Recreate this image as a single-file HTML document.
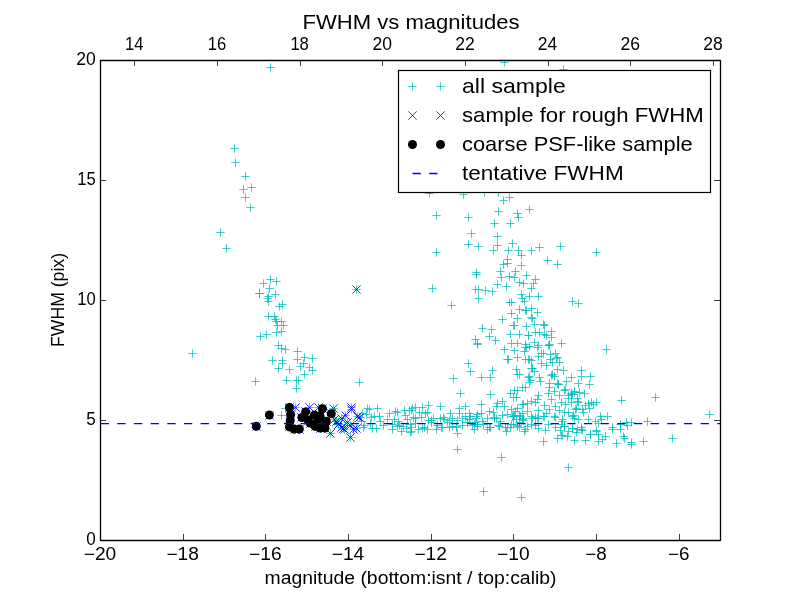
<!DOCTYPE html><html><head><meta charset="utf-8"><style>html,body{margin:0;padding:0;background:#fff;}svg{display:block;will-change:transform;}text{font-family:"Liberation Sans",sans-serif;fill:#000;}</style></head><body>
<svg width="800" height="600" viewBox="0 0 800 600">
<rect x="0" y="0" width="800" height="600" fill="#fff"/>
<defs><clipPath id="ax"><rect x="100" y="60" width="620" height="480"/></clipPath></defs>
<g clip-path="url(#ax)">
<path d="M266.33 67.50h8.34M270.50 63.33v8.34M230.33 148.50h8.34M234.50 144.33v8.34M231.33 162.50h8.34M235.50 158.33v8.34M241.33 176.50h8.34M245.50 172.33v8.34M239.33 189.50h8.34M243.50 185.33v8.34M247.33 187.50h8.34M251.50 183.33v8.34M241.33 197.50h8.34M245.50 193.33v8.34M246.33 207.50h8.34M250.50 203.33v8.34M216.33 232.50h8.34M220.50 228.33v8.34M222.33 248.50h8.34M226.50 244.33v8.34M266.33 279.50h8.34M270.50 275.33v8.34M272.33 281.50h8.34M276.50 277.33v8.34M259.33 283.50h8.34M263.50 279.33v8.34M265.33 288.50h8.34M269.50 284.33v8.34M255.33 293.50h8.34M259.50 289.33v8.34M255.33 293.50h8.34M259.50 289.33v8.34M271.33 294.50h8.34M275.50 290.33v8.34M264.33 296.50h8.34M268.50 292.33v8.34M263.33 298.50h8.34M267.50 294.33v8.34M264.33 301.50h8.34M268.50 297.33v8.34M278.33 304.50h8.34M282.50 300.33v8.34M275.33 306.50h8.34M279.50 302.33v8.34M264.33 316.50h8.34M268.50 312.33v8.34M270.33 316.50h8.34M274.50 312.33v8.34M271.33 319.50h8.34M275.50 315.33v8.34M272.33 321.50h8.34M276.50 317.33v8.34M277.33 321.50h8.34M281.50 317.33v8.34M279.33 325.50h8.34M283.50 321.33v8.34M273.33 325.50h8.34M277.50 321.33v8.34M272.33 332.50h8.34M276.50 328.33v8.34M277.33 331.50h8.34M281.50 327.33v8.34M262.33 334.50h8.34M266.50 330.33v8.34M256.33 336.50h8.34M260.50 332.33v8.34M274.33 345.50h8.34M278.50 341.33v8.34M277.33 348.50h8.34M281.50 344.33v8.34M281.33 349.50h8.34M285.50 345.33v8.34M293.33 351.50h8.34M297.50 347.33v8.34M300.33 357.50h8.34M304.50 353.33v8.34M308.33 358.50h8.34M312.50 354.33v8.34M293.33 359.50h8.34M297.50 355.33v8.34M268.33 360.50h8.34M272.50 356.33v8.34M278.33 360.50h8.34M282.50 356.33v8.34M278.33 363.50h8.34M282.50 359.33v8.34M274.33 368.50h8.34M278.50 364.33v8.34M285.33 369.50h8.34M289.50 365.33v8.34M299.33 363.50h8.34M303.50 359.33v8.34M296.33 366.50h8.34M300.50 362.33v8.34M305.33 367.50h8.34M309.50 363.33v8.34M308.33 370.50h8.34M312.50 366.33v8.34M300.33 374.50h8.34M304.50 370.33v8.34M251.33 381.50h8.34M255.50 377.33v8.34M282.33 380.50h8.34M286.50 376.33v8.34M292.33 380.50h8.34M296.50 376.33v8.34M294.33 380.50h8.34M298.50 376.33v8.34M292.33 388.50h8.34M296.50 384.33v8.34M277.33 415.50h8.34M281.50 411.33v8.34M281.33 408.50h8.34M285.50 404.33v8.34M355.33 382.50h8.34M359.50 378.33v8.34M188.33 353.50h8.34M192.50 349.33v8.34M363.33 408.50h8.34M367.50 404.33v8.34M365.33 409.50h8.34M369.50 405.33v8.34M373.33 408.50h8.34M377.50 404.33v8.34M367.33 417.50h8.34M371.50 413.33v8.34M370.33 416.50h8.34M374.50 412.33v8.34M375.33 416.50h8.34M379.50 412.33v8.34M360.33 425.50h8.34M364.50 421.33v8.34M368.33 428.50h8.34M372.50 424.33v8.34M372.33 428.50h8.34M376.50 424.33v8.34M379.33 425.50h8.34M383.50 421.33v8.34M383.33 419.50h8.34M387.50 415.33v8.34M388.33 429.50h8.34M392.50 425.33v8.34M390.33 419.50h8.34M394.50 415.33v8.34M391.33 411.50h8.34M395.50 407.33v8.34M393.33 412.50h8.34M397.50 408.33v8.34M400.33 410.50h8.34M404.50 406.33v8.34M405.33 410.50h8.34M409.50 406.33v8.34M408.33 408.50h8.34M412.50 404.33v8.34M397.33 431.50h8.34M401.50 427.33v8.34M406.33 432.50h8.34M410.50 428.33v8.34M402.33 428.50h8.34M406.50 424.33v8.34M403.33 419.50h8.34M407.50 415.33v8.34M395.33 425.50h8.34M399.50 421.33v8.34M409.33 417.50h8.34M413.50 413.33v8.34M393.33 426.50h8.34M397.50 422.33v8.34M399.33 426.50h8.34M403.50 422.33v8.34M356.33 417.50h8.34M360.50 413.33v8.34M456.33 393.50h8.34M460.50 389.33v8.34M424.33 405.50h8.34M428.50 401.33v8.34M436.33 406.50h8.34M440.50 402.33v8.34M455.33 408.50h8.34M459.50 404.33v8.34M461.33 406.50h8.34M465.50 402.33v8.34M411.33 407.50h8.34M415.50 403.33v8.34M418.33 407.50h8.34M422.50 403.33v8.34M407.33 410.50h8.34M411.50 406.33v8.34M415.33 412.50h8.34M419.50 408.33v8.34M423.33 412.50h8.34M427.50 408.33v8.34M446.33 413.50h8.34M450.50 409.33v8.34M455.33 413.50h8.34M459.50 409.33v8.34M411.33 418.50h8.34M415.50 414.33v8.34M417.33 417.50h8.34M421.50 413.33v8.34M424.33 420.50h8.34M428.50 416.33v8.34M429.33 418.50h8.34M433.50 414.33v8.34M436.33 418.50h8.34M440.50 414.33v8.34M440.33 419.50h8.34M444.50 415.33v8.34M448.33 418.50h8.34M452.50 414.33v8.34M458.33 418.50h8.34M462.50 414.33v8.34M461.33 416.50h8.34M465.50 412.33v8.34M465.33 419.50h8.34M469.50 415.33v8.34M407.33 427.50h8.34M411.50 423.33v8.34M414.33 429.50h8.34M418.50 425.33v8.34M418.33 428.50h8.34M422.50 424.33v8.34M423.33 429.50h8.34M427.50 425.33v8.34M432.33 429.50h8.34M436.50 425.33v8.34M437.33 427.50h8.34M441.50 423.33v8.34M445.33 427.50h8.34M449.50 423.33v8.34M452.33 427.50h8.34M456.50 423.33v8.34M458.33 425.50h8.34M462.50 421.33v8.34M463.33 422.50h8.34M467.50 418.33v8.34M453.33 433.50h8.34M457.50 429.33v8.34M406.33 424.50h8.34M410.50 420.33v8.34M486.33 394.50h8.34M490.50 390.33v8.34M477.33 404.50h8.34M481.50 400.33v8.34M493.33 403.50h8.34M497.50 399.33v8.34M498.33 401.50h8.34M502.50 397.33v8.34M500.33 406.50h8.34M504.50 402.33v8.34M492.33 406.50h8.34M496.50 402.33v8.34M510.33 390.50h8.34M514.50 386.33v8.34M513.33 390.50h8.34M517.50 386.33v8.34M506.33 393.50h8.34M510.50 389.33v8.34M509.33 397.50h8.34M513.50 393.33v8.34M512.33 397.50h8.34M516.50 393.33v8.34M518.33 387.50h8.34M522.50 383.33v8.34M518.33 404.50h8.34M522.50 400.33v8.34M513.33 408.50h8.34M517.50 404.33v8.34M507.33 409.50h8.34M511.50 405.33v8.34M465.33 413.50h8.34M469.50 409.33v8.34M472.33 416.50h8.34M476.50 412.33v8.34M477.33 413.50h8.34M481.50 409.33v8.34M485.33 411.50h8.34M489.50 407.33v8.34M489.33 412.50h8.34M493.50 408.33v8.34M483.33 418.50h8.34M487.50 414.33v8.34M492.33 418.50h8.34M496.50 414.33v8.34M498.33 415.50h8.34M502.50 411.33v8.34M503.33 414.50h8.34M507.50 410.33v8.34M509.33 416.50h8.34M513.50 412.33v8.34M515.33 415.50h8.34M519.50 411.33v8.34M465.33 419.50h8.34M469.50 415.33v8.34M468.33 425.50h8.34M472.50 421.33v8.34M473.33 424.50h8.34M477.50 420.33v8.34M479.33 424.50h8.34M483.50 420.33v8.34M485.33 427.50h8.34M489.50 423.33v8.34M494.33 425.50h8.34M498.50 421.33v8.34M503.33 427.50h8.34M507.50 423.33v8.34M509.33 424.50h8.34M513.50 420.33v8.34M515.33 427.50h8.34M519.50 423.33v8.34M519.33 420.50h8.34M523.50 416.33v8.34M453.33 449.50h8.34M457.50 445.33v8.34M497.33 457.50h8.34M501.50 453.33v8.34M479.33 491.50h8.34M483.50 487.33v8.34M517.33 497.50h8.34M521.50 493.33v8.34M520.33 431.50h8.34M524.50 427.33v8.34M539.33 441.50h8.34M543.50 437.33v8.34M553.33 438.50h8.34M557.50 434.33v8.34M407.33 431.50h8.34M411.50 427.33v8.34M502.33 431.50h8.34M506.50 427.33v8.34M564.33 467.50h8.34M568.50 463.33v8.34M668.33 438.50h8.34M672.50 434.33v8.34M639.33 441.50h8.34M643.50 437.33v8.34M627.33 442.50h8.34M631.50 438.33v8.34M627.33 444.50h8.34M631.50 440.33v8.34M612.33 443.50h8.34M616.50 439.33v8.34M620.33 438.50h8.34M624.50 434.33v8.34M598.33 439.50h8.34M602.50 435.33v8.34M594.33 441.50h8.34M598.50 437.33v8.34M601.33 436.50h8.34M605.50 432.33v8.34M581.33 440.50h8.34M585.50 436.33v8.34M570.33 440.50h8.34M574.50 436.33v8.34M608.33 429.50h8.34M612.50 425.33v8.34M616.33 429.50h8.34M620.50 425.33v8.34M623.33 425.50h8.34M627.50 421.33v8.34M643.33 421.50h8.34M647.50 417.33v8.34M627.33 422.50h8.34M631.50 418.33v8.34M592.33 431.50h8.34M596.50 427.33v8.34M586.33 434.50h8.34M590.50 430.33v8.34M577.33 429.50h8.34M581.50 425.33v8.34M564.33 431.50h8.34M568.50 427.33v8.34M558.33 435.50h8.34M562.50 431.33v8.34M568.33 428.50h8.34M572.50 424.33v8.34M594.33 423.50h8.34M598.50 419.33v8.34M521.33 387.50h8.34M525.50 383.33v8.34M525.33 382.50h8.34M529.50 378.33v8.34M536.33 381.50h8.34M540.50 377.33v8.34M545.33 387.50h8.34M549.50 383.33v8.34M545.33 383.50h8.34M549.50 379.33v8.34M553.33 383.50h8.34M557.50 379.33v8.34M554.33 384.50h8.34M558.50 380.33v8.34M562.33 381.50h8.34M566.50 377.33v8.34M574.33 383.50h8.34M578.50 379.33v8.34M561.33 389.50h8.34M565.50 385.33v8.34M550.33 391.50h8.34M554.50 387.33v8.34M544.33 393.50h8.34M548.50 389.33v8.34M534.33 395.50h8.34M538.50 391.33v8.34M555.33 395.50h8.34M559.50 391.33v8.34M567.33 393.50h8.34M571.50 389.33v8.34M570.33 391.50h8.34M574.50 387.33v8.34M564.33 395.50h8.34M568.50 391.33v8.34M533.33 399.50h8.34M537.50 395.33v8.34M523.33 403.50h8.34M527.50 399.33v8.34M527.33 401.50h8.34M531.50 397.33v8.34M519.33 404.50h8.34M523.50 400.33v8.34M540.33 405.50h8.34M544.50 401.33v8.34M547.33 399.50h8.34M551.50 395.33v8.34M551.33 406.50h8.34M555.50 402.33v8.34M557.33 402.50h8.34M561.50 398.33v8.34M561.33 404.50h8.34M565.50 400.33v8.34M567.33 402.50h8.34M571.50 398.33v8.34M573.33 398.50h8.34M577.50 394.33v8.34M545.33 409.50h8.34M549.50 405.33v8.34M534.33 410.50h8.34M538.50 406.33v8.34M555.33 410.50h8.34M559.50 406.33v8.34M564.33 412.50h8.34M568.50 408.33v8.34M572.33 408.50h8.34M576.50 404.33v8.34M568.33 416.50h8.34M572.50 412.33v8.34M550.33 416.50h8.34M554.50 412.33v8.34M540.33 416.50h8.34M544.50 412.33v8.34M533.33 418.50h8.34M537.50 414.33v8.34M527.33 416.50h8.34M531.50 412.33v8.34M518.33 413.50h8.34M522.50 409.33v8.34M518.33 419.50h8.34M522.50 415.33v8.34M558.33 419.50h8.34M562.50 415.33v8.34M531.33 402.50h8.34M535.50 398.33v8.34M534.33 428.50h8.34M538.50 424.33v8.34M541.33 430.50h8.34M545.50 426.33v8.34M527.33 424.50h8.34M531.50 420.33v8.34M513.33 425.50h8.34M517.50 421.33v8.34M507.33 424.50h8.34M511.50 420.33v8.34M544.33 424.50h8.34M548.50 420.33v8.34M557.33 435.50h8.34M561.50 431.33v8.34M563.33 436.50h8.34M567.50 432.33v8.34M556.33 430.50h8.34M560.50 426.33v8.34M560.33 426.50h8.34M564.50 422.33v8.34M551.33 427.50h8.34M555.50 423.33v8.34M512.33 419.50h8.34M516.50 415.33v8.34M519.33 418.50h8.34M523.50 414.33v8.34M528.33 418.50h8.34M532.50 414.33v8.34M534.33 418.50h8.34M538.50 414.33v8.34M539.33 416.50h8.34M543.50 412.33v8.34M551.33 417.50h8.34M555.50 413.33v8.34M558.33 421.50h8.34M562.50 417.33v8.34M509.33 416.50h8.34M513.50 412.33v8.34M617.33 400.50h8.34M621.50 396.33v8.34M592.33 402.50h8.34M596.50 398.33v8.34M587.33 402.50h8.34M591.50 398.33v8.34M584.33 403.50h8.34M588.50 399.33v8.34M581.33 405.50h8.34M585.50 401.33v8.34M585.33 408.50h8.34M589.50 404.33v8.34M579.33 412.50h8.34M583.50 408.33v8.34M580.33 393.50h8.34M584.50 389.33v8.34M575.33 392.50h8.34M579.50 388.33v8.34M570.33 392.50h8.34M574.50 388.33v8.34M567.33 394.50h8.34M571.50 390.33v8.34M573.33 401.50h8.34M577.50 397.33v8.34M571.33 409.50h8.34M575.50 405.33v8.34M569.33 415.50h8.34M573.50 411.33v8.34M574.33 419.50h8.34M578.50 415.33v8.34M584.33 419.50h8.34M588.50 415.33v8.34M591.33 421.50h8.34M595.50 417.33v8.34M596.33 416.50h8.34M600.50 412.33v8.34M603.33 416.50h8.34M607.50 412.33v8.34M597.33 419.50h8.34M601.50 415.33v8.34M577.33 427.50h8.34M581.50 423.33v8.34M608.33 427.50h8.34M612.50 423.33v8.34M616.33 424.50h8.34M620.50 420.33v8.34M622.33 422.50h8.34M626.50 418.33v8.34M651.33 397.50h8.34M655.50 393.33v8.34M705.33 414.50h8.34M709.50 410.33v8.34M619.33 436.50h8.34M623.50 432.33v8.34M425.33 193.50h8.34M429.50 189.33v8.34M459.33 194.50h8.34M463.50 190.33v8.34M480.33 192.50h8.34M484.50 188.33v8.34M494.33 192.50h8.34M498.50 188.33v8.34M505.33 197.50h8.34M509.50 193.33v8.34M499.33 200.50h8.34M503.50 196.33v8.34M432.33 215.50h8.34M436.50 211.33v8.34M464.33 217.50h8.34M468.50 213.33v8.34M494.33 211.50h8.34M498.50 207.33v8.34M513.33 213.50h8.34M517.50 209.33v8.34M514.33 217.50h8.34M518.50 213.33v8.34M525.33 209.50h8.34M529.50 205.33v8.34M490.33 223.50h8.34M494.50 219.33v8.34M506.33 223.50h8.34M510.50 219.33v8.34M467.33 233.50h8.34M471.50 229.33v8.34M493.33 236.50h8.34M497.50 232.33v8.34M464.33 244.50h8.34M468.50 240.33v8.34M474.33 246.50h8.34M478.50 242.33v8.34M493.33 245.50h8.34M497.50 241.33v8.34M489.33 250.50h8.34M493.50 246.33v8.34M508.33 243.50h8.34M512.50 239.33v8.34M504.33 250.50h8.34M508.50 246.33v8.34M514.33 250.50h8.34M518.50 246.33v8.34M517.33 255.50h8.34M521.50 251.33v8.34M527.33 250.50h8.34M531.50 246.33v8.34M535.33 247.50h8.34M539.50 243.33v8.34M556.33 246.50h8.34M560.50 242.33v8.34M543.33 260.50h8.34M547.50 256.33v8.34M553.33 264.50h8.34M557.50 260.33v8.34M432.33 252.50h8.34M436.50 248.33v8.34M503.33 259.50h8.34M507.50 255.33v8.34M503.33 263.50h8.34M507.50 259.33v8.34M499.33 264.50h8.34M503.50 260.33v8.34M517.33 265.50h8.34M521.50 261.33v8.34M472.33 272.50h8.34M476.50 268.33v8.34M472.33 274.50h8.34M476.50 270.33v8.34M496.33 271.50h8.34M500.50 267.33v8.34M511.33 271.50h8.34M515.50 267.33v8.34M522.33 275.50h8.34M526.50 271.33v8.34M497.33 277.50h8.34M501.50 273.33v8.34M505.33 276.50h8.34M509.50 272.33v8.34M510.33 277.50h8.34M514.50 273.33v8.34M531.33 279.50h8.34M535.50 275.33v8.34M529.33 283.50h8.34M533.50 279.33v8.34M515.33 282.50h8.34M519.50 278.33v8.34M519.33 283.50h8.34M523.50 279.33v8.34M493.33 284.50h8.34M497.50 280.33v8.34M502.33 286.50h8.34M506.50 282.33v8.34M428.33 288.50h8.34M432.50 284.33v8.34M471.33 289.50h8.34M475.50 285.33v8.34M474.33 289.50h8.34M478.50 285.33v8.34M481.33 290.50h8.34M485.50 286.33v8.34M488.33 291.50h8.34M492.50 287.33v8.34M527.33 288.50h8.34M531.50 284.33v8.34M474.33 298.50h8.34M478.50 294.33v8.34M517.33 294.50h8.34M521.50 290.33v8.34M518.33 298.50h8.34M522.50 294.33v8.34M525.33 296.50h8.34M529.50 292.33v8.34M534.33 296.50h8.34M538.50 292.33v8.34M505.33 302.50h8.34M509.50 298.33v8.34M507.33 302.50h8.34M511.50 298.33v8.34M520.33 301.50h8.34M524.50 297.33v8.34M447.33 305.50h8.34M451.50 301.33v8.34M592.33 252.50h8.34M596.50 248.33v8.34M568.33 301.50h8.34M572.50 297.33v8.34M574.33 303.50h8.34M578.50 299.33v8.34M507.33 313.50h8.34M511.50 309.33v8.34M515.33 309.50h8.34M519.50 305.33v8.34M521.33 310.50h8.34M525.50 306.33v8.34M527.33 308.50h8.34M531.50 304.33v8.34M533.33 312.50h8.34M537.50 308.33v8.34M498.33 319.50h8.34M502.50 315.33v8.34M513.33 318.50h8.34M517.50 314.33v8.34M527.33 317.50h8.34M531.50 313.33v8.34M509.33 325.50h8.34M513.50 321.33v8.34M522.33 326.50h8.34M526.50 322.33v8.34M530.33 324.50h8.34M534.50 320.33v8.34M478.33 328.50h8.34M482.50 324.33v8.34M487.33 329.50h8.34M491.50 325.33v8.34M485.33 336.50h8.34M489.50 332.33v8.34M491.33 340.50h8.34M495.50 336.33v8.34M471.33 339.50h8.34M475.50 335.33v8.34M473.33 343.50h8.34M477.50 339.33v8.34M473.33 344.50h8.34M477.50 340.33v8.34M506.33 334.50h8.34M510.50 330.33v8.34M515.33 334.50h8.34M519.50 330.33v8.34M524.33 335.50h8.34M528.50 331.33v8.34M531.33 332.50h8.34M535.50 328.33v8.34M513.33 343.50h8.34M517.50 339.33v8.34M507.33 343.50h8.34M511.50 339.33v8.34M521.33 344.50h8.34M525.50 340.33v8.34M530.33 342.50h8.34M534.50 338.33v8.34M500.33 349.50h8.34M504.50 345.33v8.34M510.33 350.50h8.34M514.50 346.33v8.34M521.33 347.50h8.34M525.50 343.33v8.34M533.33 347.50h8.34M537.50 343.33v8.34M503.33 359.50h8.34M507.50 355.33v8.34M513.33 357.50h8.34M517.50 353.33v8.34M521.33 359.50h8.34M525.50 355.33v8.34M527.33 360.50h8.34M531.50 356.33v8.34M534.33 356.50h8.34M538.50 352.33v8.34M464.33 363.50h8.34M468.50 359.33v8.34M466.33 371.50h8.34M470.50 367.33v8.34M488.33 370.50h8.34M492.50 366.33v8.34M486.33 377.50h8.34M490.50 373.33v8.34M477.33 377.50h8.34M481.50 373.33v8.34M449.33 378.50h8.34M453.50 374.33v8.34M512.33 369.50h8.34M516.50 365.33v8.34M515.33 374.50h8.34M519.50 370.33v8.34M527.33 368.50h8.34M531.50 364.33v8.34M530.33 371.50h8.34M534.50 367.33v8.34M524.33 377.50h8.34M528.50 373.33v8.34M539.33 324.50h8.34M543.50 320.33v8.34M547.33 331.50h8.34M551.50 327.33v8.34M547.33 337.50h8.34M551.50 333.33v8.34M540.33 334.50h8.34M544.50 330.33v8.34M535.33 332.50h8.34M539.50 328.33v8.34M557.33 343.50h8.34M561.50 339.33v8.34M545.33 345.50h8.34M549.50 341.33v8.34M534.33 345.50h8.34M538.50 341.33v8.34M525.33 346.50h8.34M529.50 342.33v8.34M602.33 349.50h8.34M606.50 345.33v8.34M537.33 353.50h8.34M541.50 349.33v8.34M546.33 354.50h8.34M550.50 350.33v8.34M553.33 357.50h8.34M557.50 353.33v8.34M546.33 359.50h8.34M550.50 355.33v8.34M537.33 363.50h8.34M541.50 359.33v8.34M525.33 359.50h8.34M529.50 355.33v8.34M528.33 368.50h8.34M532.50 364.33v8.34M555.33 362.50h8.34M559.50 358.33v8.34M559.33 370.50h8.34M563.50 366.33v8.34M577.33 370.50h8.34M581.50 366.33v8.34M553.33 369.50h8.34M557.50 365.33v8.34M586.33 376.50h8.34M590.50 372.33v8.34M577.33 376.50h8.34M581.50 372.33v8.34M567.33 377.50h8.34M571.50 373.33v8.34M547.33 375.50h8.34M551.50 371.33v8.34M535.33 377.50h8.34M539.50 373.33v8.34M525.33 376.50h8.34M529.50 372.33v8.34M500.33 62.50h8.34M504.50 58.33v8.34M559.33 69.50h8.34M563.50 65.33v8.34M471.33 422.50h8.34M475.50 418.33v8.34M463.33 422.50h8.34M467.50 418.33v8.34M453.33 420.50h8.34M457.50 416.33v8.34M443.33 422.50h8.34M447.50 418.33v8.34M427.33 422.50h8.34M431.50 418.33v8.34M421.33 413.50h8.34M425.50 409.33v8.34M439.33 417.50h8.34M443.50 413.33v8.34M504.33 359.50h8.34M508.50 355.33v8.34M545.33 344.50h8.34M549.50 340.33v8.34M551.33 353.50h8.34M555.50 349.33v8.34M542.33 365.50h8.34M546.50 361.33v8.34M548.33 374.50h8.34M552.50 370.33v8.34M585.33 384.50h8.34M589.50 380.33v8.34M539.33 353.50h8.34M543.50 349.33v8.34M510.33 415.50h8.34M514.50 411.33v8.34M515.33 422.50h8.34M519.50 418.33v8.34M501.33 427.50h8.34M505.50 423.33v8.34M490.33 418.50h8.34M494.50 414.33v8.34M472.33 418.50h8.34M476.50 414.33v8.34M470.33 424.50h8.34M474.50 420.33v8.34M445.33 420.50h8.34M449.50 416.33v8.34M427.33 420.50h8.34M431.50 416.33v8.34M420.33 427.50h8.34M424.50 423.33v8.34M483.33 429.50h8.34M487.50 425.33v8.34M521.33 429.50h8.34M525.50 425.33v8.34M542.33 413.50h8.34M546.50 409.33v8.34M557.33 424.50h8.34M561.50 420.33v8.34M573.33 429.50h8.34M577.50 425.33v8.34M578.33 409.50h8.34M582.50 405.33v8.34M589.33 404.50h8.34M593.50 400.33v8.34M448.33 426.50h8.34M452.50 422.33v8.34M433.33 425.50h8.34M437.50 421.33v8.34M496.33 421.50h8.34M500.50 417.33v8.34M478.33 421.50h8.34M482.50 417.33v8.34M560.33 390.50h8.34M564.50 386.33v8.34M564.33 398.50h8.34M568.50 394.33v8.34M568.33 394.50h8.34M572.50 390.33v8.34M574.33 402.50h8.34M578.50 398.33v8.34M560.33 412.50h8.34M564.50 408.33v8.34M570.33 418.50h8.34M574.50 414.33v8.34M578.33 430.50h8.34M582.50 426.33v8.34M568.33 428.50h8.34M572.50 424.33v8.34M560.33 426.50h8.34M564.50 422.33v8.34M592.33 430.50h8.34M596.50 426.33v8.34M594.33 434.50h8.34M598.50 430.33v8.34M572.33 432.50h8.34M576.50 428.33v8.34M586.33 434.50h8.34M590.50 430.33v8.34M358.33 413.50h8.34M362.50 409.33v8.34M366.33 423.50h8.34M370.50 419.33v8.34M376.33 421.50h8.34M380.50 417.33v8.34M385.33 413.50h8.34M389.50 409.33v8.34M394.33 421.50h8.34M398.50 417.33v8.34M401.33 415.50h8.34M405.50 411.33v8.34M411.33 423.50h8.34M415.50 419.33v8.34M388.33 424.50h8.34M392.50 420.33v8.34M522.33 310.50h8.34M526.50 306.33v8.34M528.33 318.50h8.34M532.50 314.33v8.34M510.33 325.50h8.34M514.50 321.33v8.34M540.33 325.50h8.34M544.50 321.33v8.34M524.33 335.50h8.34M528.50 331.33v8.34M542.33 335.50h8.34M546.50 331.33v8.34M522.33 347.50h8.34M526.50 343.33v8.34M544.33 345.50h8.34M548.50 341.33v8.34M520.33 351.50h8.34M524.50 347.33v8.34M552.33 358.50h8.34M556.50 354.33v8.34M524.33 359.50h8.34M528.50 355.33v8.34M528.33 368.50h8.34M532.50 364.33v8.34M548.33 362.50h8.34M552.50 358.33v8.34M513.33 374.50h8.34M517.50 370.33v8.34M526.33 380.50h8.34M530.50 376.33v8.34M550.33 376.50h8.34M554.50 372.33v8.34M554.33 384.50h8.34M558.50 380.33v8.34M438.33 427.50h8.34M442.50 423.33v8.34M452.33 426.50h8.34M456.50 422.33v8.34M470.33 429.50h8.34M474.50 425.33v8.34M473.33 426.50h8.34M477.50 422.33v8.34M486.33 427.50h8.34M490.50 423.33v8.34M495.33 426.50h8.34M499.50 422.33v8.34M506.33 427.50h8.34M510.50 423.33v8.34M513.33 426.50h8.34M517.50 422.33v8.34M523.33 426.50h8.34M527.50 422.33v8.34M531.33 425.50h8.34M535.50 421.33v8.34M466.33 416.50h8.34M470.50 412.33v8.34M473.33 414.50h8.34M477.50 410.33v8.34M490.33 417.50h8.34M494.50 413.33v8.34M508.33 416.50h8.34M512.50 412.33v8.34M516.33 416.50h8.34M520.50 412.33v8.34M511.33 411.50h8.34M515.50 407.33v8.34M523.33 411.50h8.34M527.50 407.33v8.34M531.33 417.50h8.34M535.50 413.33v8.34M357.33 421.50h8.34M361.50 417.33v8.34M359.33 427.50h8.34M363.50 423.33v8.34M362.33 414.50h8.34M366.50 410.33v8.34M352.33 289.50h8.34M356.50 285.33v8.34M291.33 407.50h8.34M295.50 403.33v8.34M305.33 407.50h8.34M309.50 403.33v8.34M314.33 407.50h8.34M318.50 403.33v8.34M329.33 408.50h8.34M333.50 404.33v8.34M347.33 407.50h8.34M351.50 403.33v8.34M347.33 409.50h8.34M351.50 405.33v8.34M337.33 418.50h8.34M341.50 414.33v8.34M353.33 416.50h8.34M357.50 412.33v8.34M337.33 427.50h8.34M341.50 423.33v8.34M339.33 428.50h8.34M343.50 424.33v8.34M343.33 422.50h8.34M347.50 418.33v8.34M352.33 428.50h8.34M356.50 424.33v8.34M326.33 433.50h8.34M330.50 429.33v8.34M346.33 437.50h8.34M350.50 433.33v8.34M330.33 419.50h8.34M334.50 415.33v8.34M334.33 424.50h8.34M338.50 420.33v8.34M334.33 424.50h8.34M338.50 420.33v8.34M340.33 429.50h8.34M344.50 425.33v8.34M346.33 425.50h8.34M350.50 421.33v8.34M355.33 417.50h8.34M359.50 413.33v8.34M332.33 421.50h8.34M336.50 417.33v8.34M341.33 415.50h8.34M345.50 411.33v8.34M349.33 429.50h8.34M353.50 425.33v8.34M252.33 426.50h8.34M256.50 422.33v8.34M265.33 415.50h8.34M269.50 411.33v8.34M285.33 407.50h8.34M289.50 403.33v8.34M286.33 414.50h8.34M290.50 410.33v8.34M286.33 420.50h8.34M290.50 416.33v8.34M285.33 426.50h8.34M289.50 422.33v8.34M290.33 429.50h8.34M294.50 425.33v8.34M295.33 429.50h8.34M299.50 425.33v8.34M301.33 411.50h8.34M305.50 407.33v8.34M297.33 417.50h8.34M301.50 413.33v8.34M310.33 415.50h8.34M314.50 411.33v8.34M306.33 423.50h8.34M310.50 419.33v8.34M311.33 426.50h8.34M315.50 422.33v8.34M318.33 408.50h8.34M322.50 404.33v8.34M316.33 416.50h8.34M320.50 412.33v8.34M322.33 421.50h8.34M326.50 417.33v8.34M327.33 413.50h8.34M331.50 409.33v8.34M321.33 428.50h8.34M325.50 424.33v8.34M316.33 428.50h8.34M320.50 424.33v8.34M304.33 420.50h8.34M308.50 416.33v8.34M314.33 420.50h8.34M318.50 416.33v8.34" stroke="#00bfbf" stroke-width="0.75" fill="none"/>
<path d="M352.33 285.33L360.67 293.67M352.33 293.67L360.67 285.33M291.33 403.33L299.67 411.67M291.33 411.67L299.67 403.33M305.33 403.33L313.67 411.67M305.33 411.67L313.67 403.33M314.33 403.33L322.67 411.67M314.33 411.67L322.67 403.33M329.33 404.33L337.67 412.67M329.33 412.67L337.67 404.33M347.33 403.33L355.67 411.67M347.33 411.67L355.67 403.33M347.33 405.33L355.67 413.67M347.33 413.67L355.67 405.33M337.33 414.33L345.67 422.67M337.33 422.67L345.67 414.33M353.33 412.33L361.67 420.67M353.33 420.67L361.67 412.33M337.33 423.33L345.67 431.67M337.33 431.67L345.67 423.33M339.33 424.33L347.67 432.67M339.33 432.67L347.67 424.33M343.33 418.33L351.67 426.67M343.33 426.67L351.67 418.33M352.33 424.33L360.67 432.67M352.33 432.67L360.67 424.33M326.33 429.33L334.67 437.67M326.33 437.67L334.67 429.33M346.33 433.33L354.67 441.67M346.33 441.67L354.67 433.33M330.33 415.33L338.67 423.67M330.33 423.67L338.67 415.33M334.33 420.33L342.67 428.67M334.33 428.67L342.67 420.33M334.33 420.33L342.67 428.67M334.33 428.67L342.67 420.33M340.33 425.33L348.67 433.67M340.33 433.67L348.67 425.33M346.33 421.33L354.67 429.67M346.33 429.67L354.67 421.33M355.33 413.33L363.67 421.67M355.33 421.67L363.67 413.33M332.33 417.33L340.67 425.67M332.33 425.67L340.67 417.33M341.33 411.33L349.67 419.67M341.33 419.67L349.67 411.33M349.33 425.33L357.67 433.67M349.33 433.67L357.67 425.33M252.33 422.33L260.67 430.67M252.33 430.67L260.67 422.33M265.33 411.33L273.67 419.67M265.33 419.67L273.67 411.33M285.33 403.33L293.67 411.67M285.33 411.67L293.67 403.33M286.33 410.33L294.67 418.67M286.33 418.67L294.67 410.33M286.33 416.33L294.67 424.67M286.33 424.67L294.67 416.33M285.33 422.33L293.67 430.67M285.33 430.67L293.67 422.33M290.33 425.33L298.67 433.67M290.33 433.67L298.67 425.33M295.33 425.33L303.67 433.67M295.33 433.67L303.67 425.33M301.33 407.33L309.67 415.67M301.33 415.67L309.67 407.33M297.33 413.33L305.67 421.67M297.33 421.67L305.67 413.33M310.33 411.33L318.67 419.67M310.33 419.67L318.67 411.33M306.33 419.33L314.67 427.67M306.33 427.67L314.67 419.33M311.33 422.33L319.67 430.67M311.33 430.67L319.67 422.33M318.33 404.33L326.67 412.67M318.33 412.67L326.67 404.33M316.33 412.33L324.67 420.67M316.33 420.67L324.67 412.33M322.33 417.33L330.67 425.67M322.33 425.67L330.67 417.33M327.33 409.33L335.67 417.67M327.33 417.67L335.67 409.33M321.33 424.33L329.67 432.67M321.33 432.67L329.67 424.33M316.33 424.33L324.67 432.67M316.33 432.67L324.67 424.33M304.33 416.33L312.67 424.67M304.33 424.67L312.67 416.33M314.33 416.33L322.67 424.67M314.33 424.67L322.67 416.33" stroke="#0000ff" stroke-width="0.8" fill="none"/>
<circle cx="256.25" cy="426.25" r="4.5" fill="#000"/>
<circle cx="269.40" cy="415.00" r="4.5" fill="#000"/>
<circle cx="289.40" cy="407.50" r="4.5" fill="#000"/>
<circle cx="290.60" cy="414.50" r="4.5" fill="#000"/>
<circle cx="290.20" cy="420.50" r="4.5" fill="#000"/>
<circle cx="289.40" cy="426.90" r="4.5" fill="#000"/>
<circle cx="294.00" cy="429.00" r="4.5" fill="#000"/>
<circle cx="299.40" cy="429.00" r="4.5" fill="#000"/>
<circle cx="305.60" cy="411.90" r="4.5" fill="#000"/>
<circle cx="301.90" cy="417.50" r="4.5" fill="#000"/>
<circle cx="314.40" cy="415.00" r="4.5" fill="#000"/>
<circle cx="310.00" cy="423.10" r="4.5" fill="#000"/>
<circle cx="315.00" cy="426.25" r="4.5" fill="#000"/>
<circle cx="322.50" cy="408.75" r="4.5" fill="#000"/>
<circle cx="320.00" cy="416.25" r="4.5" fill="#000"/>
<circle cx="326.25" cy="421.25" r="4.5" fill="#000"/>
<circle cx="331.25" cy="413.75" r="4.5" fill="#000"/>
<circle cx="325.00" cy="428.10" r="4.5" fill="#000"/>
<circle cx="320.00" cy="428.10" r="4.5" fill="#000"/>
<circle cx="308.00" cy="420.00" r="4.5" fill="#000"/>
<circle cx="318.00" cy="420.00" r="4.5" fill="#000"/>
<line x1="100" y1="423.60" x2="720" y2="423.60" stroke="#0000ff" stroke-width="1.4" stroke-dasharray="8.333 8.333" stroke-dashoffset="-0.6"/>
</g>
<path d="M100.5 540v-6M183.5 540v-6M265.5 540v-6M348.5 540v-6M431.5 540v-6M513.5 540v-6M596.5 540v-6M679.5 540v-6M134.5 60v6M217.5 60v6M300.5 60v6M382.5 60v6M465.5 60v6M548.5 60v6M630.5 60v6M713.5 60v6M100 540.5h6M720 540.5h-6M100 420.5h6M720 420.5h-6M100 300.5h6M720 300.5h-6M100 180.5h6M720 180.5h-6M100 60.5h6M720 60.5h-6" stroke="#000" stroke-width="0.75" fill="none"/>
<rect x="100.5" y="60.5" width="620" height="480" fill="none" stroke="#000" stroke-width="1.3" stroke-linejoin="round"/>
<text x="100.00" y="560" font-size="17.5" text-anchor="middle" textLength="32.5" lengthAdjust="spacingAndGlyphs">−20</text>
<text x="182.67" y="560" font-size="17.5" text-anchor="middle" textLength="32.5" lengthAdjust="spacingAndGlyphs">−18</text>
<text x="265.33" y="560" font-size="17.5" text-anchor="middle" textLength="32.5" lengthAdjust="spacingAndGlyphs">−16</text>
<text x="348.00" y="560" font-size="17.5" text-anchor="middle" textLength="32.5" lengthAdjust="spacingAndGlyphs">−14</text>
<text x="430.67" y="560" font-size="17.5" text-anchor="middle" textLength="32.5" lengthAdjust="spacingAndGlyphs">−12</text>
<text x="513.33" y="560" font-size="17.5" text-anchor="middle" textLength="32.5" lengthAdjust="spacingAndGlyphs">−10</text>
<text x="596.00" y="560" font-size="17.5" text-anchor="middle" textLength="21.5" lengthAdjust="spacingAndGlyphs">−8</text>
<text x="678.67" y="560" font-size="17.5" text-anchor="middle" textLength="21.5" lengthAdjust="spacingAndGlyphs">−6</text>
<text x="134.31" y="50" font-size="17.5" text-anchor="middle" textLength="18.5" lengthAdjust="spacingAndGlyphs">14</text>
<text x="216.97" y="50" font-size="17.5" text-anchor="middle" textLength="18.5" lengthAdjust="spacingAndGlyphs">16</text>
<text x="299.64" y="50" font-size="17.5" text-anchor="middle" textLength="18.5" lengthAdjust="spacingAndGlyphs">18</text>
<text x="382.31" y="50" font-size="17.5" text-anchor="middle" textLength="19.5" lengthAdjust="spacingAndGlyphs">20</text>
<text x="464.97" y="50" font-size="17.5" text-anchor="middle" textLength="19.5" lengthAdjust="spacingAndGlyphs">22</text>
<text x="547.64" y="50" font-size="17.5" text-anchor="middle" textLength="19.5" lengthAdjust="spacingAndGlyphs">24</text>
<text x="630.31" y="50" font-size="17.5" text-anchor="middle" textLength="19.5" lengthAdjust="spacingAndGlyphs">26</text>
<text x="712.97" y="50" font-size="17.5" text-anchor="middle" textLength="19.5" lengthAdjust="spacingAndGlyphs">28</text>
<text x="95.7" y="545.30" font-size="17.5" text-anchor="end" textLength="9.5" lengthAdjust="spacingAndGlyphs">0</text>
<text x="95.7" y="425.30" font-size="17.5" text-anchor="end" textLength="9.5" lengthAdjust="spacingAndGlyphs">5</text>
<text x="95.7" y="305.30" font-size="17.5" text-anchor="end" textLength="18.5" lengthAdjust="spacingAndGlyphs">10</text>
<text x="95.7" y="185.30" font-size="17.5" text-anchor="end" textLength="18.5" lengthAdjust="spacingAndGlyphs">15</text>
<text x="95.7" y="65.30" font-size="17.5" text-anchor="end" textLength="19.5" lengthAdjust="spacingAndGlyphs">20</text>
<text x="302.5" y="29" font-size="21" textLength="217" lengthAdjust="spacingAndGlyphs">FWHM vs magnitudes</text>
<text x="264.5" y="584" font-size="17.5" textLength="292" lengthAdjust="spacingAndGlyphs">magnitude (bottom:isnt / top:calib)</text>
<text transform="translate(64,347) rotate(-90)" x="0" y="0" font-size="17.5" textLength="94" lengthAdjust="spacingAndGlyphs">FWHM (pix)</text>
<rect x="398.5" y="70.5" width="312" height="122" fill="#fff" stroke="#000" stroke-width="1.2"/>
<path d="M408.33 86.5h8.34M412.5 82.33v8.34" stroke="#00bfbf" stroke-width="0.75" fill="none"/>
<path d="M408.33 111.33L416.67 119.67M408.33 119.67L416.67 111.33" stroke="#0000ff" stroke-width="0.8" fill="none"/>
<circle cx="412.5" cy="144.5" r="4.5" fill="#000"/>
<path d="M436.33 86.5h8.34M440.5 82.33v8.34" stroke="#00bfbf" stroke-width="0.75" fill="none"/>
<path d="M436.33 111.33L444.67 119.67M436.33 119.67L444.67 111.33" stroke="#0000ff" stroke-width="0.8" fill="none"/>
<circle cx="440.5" cy="144.5" r="4.5" fill="#000"/>
<line x1="412.5" y1="173.5" x2="440.5" y2="173.5" stroke="#0000ff" stroke-width="1.4" stroke-dasharray="8.33 8.33"/>
<text x="462" y="92.80" font-size="21" textLength="103.7" lengthAdjust="spacingAndGlyphs">all sample</text>
<text x="462" y="121.80" font-size="21" textLength="241.7" lengthAdjust="spacingAndGlyphs">sample for rough FWHM</text>
<text x="462" y="150.80" font-size="21" textLength="230.7" lengthAdjust="spacingAndGlyphs">coarse PSF-like sample</text>
<text x="462" y="179.80" font-size="21" textLength="161.7" lengthAdjust="spacingAndGlyphs">tentative FWHM</text>
</svg></body></html>
